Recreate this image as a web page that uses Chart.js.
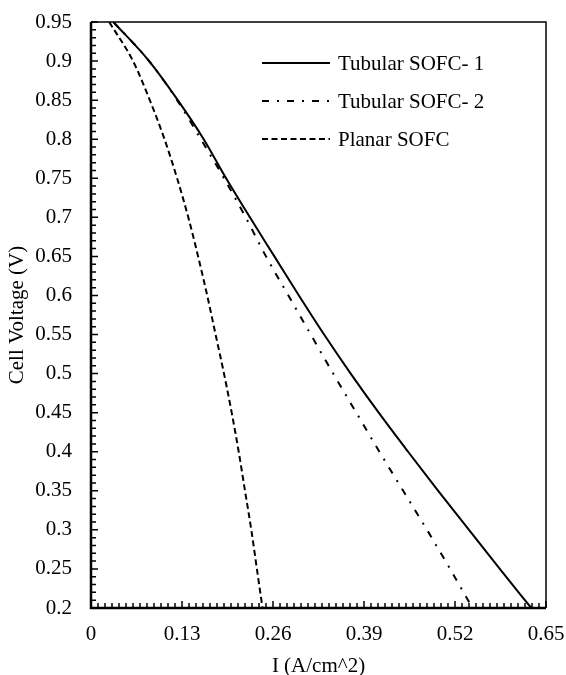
<!DOCTYPE html>
<html>
<head>
<meta charset="utf-8">
<script src="https://cdn.jsdelivr.net/npm/chart.js@4.4.1/dist/chart.umd.min.js"></script>
<style>
  html, body { margin: 0; padding: 0; background: #fff; }
</style>
</head>
<body>
<canvas id="chart" width="566" height="675"></canvas>
<script>
// cell voltage (V) and current density (A/cm^2) for each cell type
const voltage  = [0.95, 0.9, 0.85, 0.8, 0.75, 0.7, 0.65, 0.6, 0.55, 0.5, 0.45, 0.4, 0.35, 0.3, 0.25, 0.2];
const tubular1 = [0.032, 0.083, 0.124, 0.161, 0.193, 0.227, 0.262, 0.297, 0.333, 0.371, 0.411, 0.453, 0.496, 0.540, 0.584, 0.629];
const tubular2 = [0.032, 0.083, 0.123, 0.157, 0.190, 0.221, 0.250, 0.282, 0.314, 0.346, 0.379, 0.412, 0.446, 0.480, 0.513, 0.545];
const planar   = [0.026, 0.060, 0.084, 0.105, 0.123, 0.139, 0.153, 0.166, 0.178, 0.190, 0.201, 0.211, 0.220, 0.229, 0.237, 0.245];

const seriesNames = ['Tubular SOFC- 1', 'Tubular SOFC- 2', 'Planar SOFC'];
const xTicks = [0, 0.13, 0.26, 0.39, 0.52, 0.65];
const yTicks = [0.2, 0.25, 0.3, 0.35, 0.4, 0.45, 0.5, 0.55, 0.6, 0.65, 0.7, 0.75, 0.8, 0.85, 0.9, 0.95];

const toPoints = xs => xs.map((x, i) => ({ x, y: voltage[i] }));
const fmt = v => String(parseFloat(v.toFixed(2)));

Chart.defaults.font.family = '"Liberation Serif", "Times New Roman", serif';
Chart.defaults.font.size = 21;
Chart.defaults.color = '#000';

// frame with inward minor/major tick marks
const frame = {
  id: 'frame',
  afterDatasetsDraw(chart) {
    const { ctx, chartArea: a, scales: { x, y } } = chart;
    ctx.save();
    ctx.strokeStyle = '#000';
    ctx.setLineDash([]);
    ctx.lineWidth = 1.5;
    ctx.beginPath();
    for (let i = 0; i <= 65; i++) {
      const px = x.getPixelForValue(i / 100);
      const len = i % 13 === 0 ? 7 : 5;
      ctx.moveTo(px, a.bottom);
      ctx.lineTo(px, a.bottom - len);
    }
    for (let i = 0; i <= 75; i++) {
      const py = y.getPixelForValue(0.2 + i / 100);
      const len = i % 5 === 0 ? 7 : 5;
      ctx.moveTo(a.left, py);
      ctx.lineTo(a.left + len, py);
    }
    ctx.stroke();

    ctx.lineWidth = 1.5;
    ctx.beginPath();
    ctx.moveTo(a.left, a.top);
    ctx.lineTo(a.right, a.top);
    ctx.lineTo(a.right, a.bottom);
    ctx.stroke();

    ctx.lineWidth = 2.5;
    ctx.beginPath();
    ctx.moveTo(a.left, a.top);
    ctx.lineTo(a.left, a.bottom);
    ctx.lineTo(a.right, a.bottom);
    ctx.stroke();
    ctx.restore();
  }
};

// legend drawn inside the plot, upper right
const insideLegend = {
  id: 'insideLegend',
  afterDraw(chart) {
    const { ctx } = chart;
    ctx.save();
    ctx.font = '21px "Liberation Serif", "Times New Roman", serif';
    ctx.fillStyle = '#000';
    ctx.textBaseline = 'middle';
    ctx.textAlign = 'left';
    chart.data.datasets.forEach((ds, i) => {
      const yy = 63 + i * 38;
      ctx.strokeStyle = ds.borderColor;
      ctx.lineWidth = ds.borderWidth;
      ctx.setLineDash(ds.borderDash || []);
      ctx.beginPath();
      ctx.moveTo(262, yy);
      ctx.lineTo(330, yy);
      ctx.stroke();
      ctx.fillText(ds.label, 338, yy + 1);
    });
    ctx.restore();
  }
};

new Chart(document.getElementById('chart').getContext('2d'), {
  type: 'line',
  data: {
    datasets: [
      { label: seriesNames[0], data: toPoints(tubular1), borderColor: '#000', borderWidth: 2, borderDash: [] },
      { label: seriesNames[1], data: toPoints(tubular2), borderColor: '#000', borderWidth: 2, borderDash: [7, 8, 2, 8] },
      { label: seriesNames[2], data: toPoints(planar), borderColor: '#000', borderWidth: 2, borderDash: [6, 3.5] }
    ]
  },
  options: {
    responsive: false,
    animation: false,
    events: [],
    elements: {
      point: { radius: 0 },
      line: { cubicInterpolationMode: 'monotone', fill: false }
    },
    layout: { padding: { top: 22, right: 20, left: 0, bottom: 0 } },
    scales: {
      x: {
        type: 'linear',
        min: 0,
        max: 0.65,
        grid: { display: false, drawTicks: false },
        border: { display: false },
        afterBuildTicks: s => { s.ticks = xTicks.map(v => ({ value: v })); },
        afterFit: s => { s.height = 67; s.paddingLeft = 0; s.paddingRight = 0; },
        ticks: { padding: 14, maxRotation: 0, autoSkip: false, callback: v => fmt(v) },
        title: { display: true, text: 'I (A/cm^2)', font: { lineHeight: 0.8 }, padding: { top: 0, bottom: 0 } }
      },
      y: {
        type: 'linear',
        min: 0.2,
        max: 0.95,
        grid: { display: false, drawTicks: false },
        border: { display: false },
        afterBuildTicks: s => { s.ticks = yTicks.map(v => ({ value: v })); },
        afterFit: s => { s.width = 91; s.paddingTop = 0; s.paddingBottom = 0; },
        ticks: { padding: 19, autoSkip: false, callback: v => fmt(v) },
        title: { display: true, text: 'Cell Voltage (V)', padding: { top: 5, bottom: 0 } }
      }
    },
    plugins: {
      legend: { display: false },
      tooltip: { enabled: false }
    }
  },
  plugins: [frame, insideLegend]
});
</script>
</body>
</html>
